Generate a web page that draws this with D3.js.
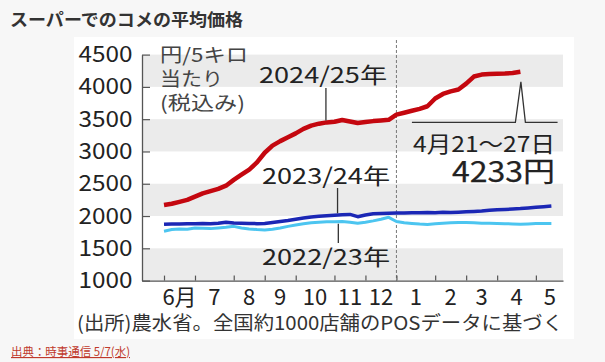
<!DOCTYPE html>
<html>
<head>
<meta charset="utf-8">
<script src="https://cdn.jsdelivr.net/npm/d3@7"></script>
<style>
    body { margin: 0; background: #f7f7f7; }
    text { font-family: "Noto Sans CJK JP", "Noto Sans", sans-serif; }
</style>
</head>
<body>
<svg id="chart" width="605" height="362"></svg>
<script>
'use strict'

// Weekly average price, yen per 5kg (week 0 = first week of June).
const red2425 = [2170, 2190, 2220, 2250, 2300, 2350, 2385, 2420, 2470, 2560,
    2640, 2720, 2830, 2980, 3090, 3160, 3220, 3280, 3350, 3400,
    3430, 3450, 3460, 3488, 3465, 3440, 3455, 3470, 3480, 3490,
    3570, 3600, 3630, 3660, 3700, 3820, 3890, 3930, 3960, 4050,
    4160, 4190, 4200, 4205, 4208, 4214, 4233];
const blue2324 = [1872, 1878, 1875, 1882, 1882, 1885, 1880, 1888, 1905, 1892,
    1888, 1885, 1882, 1885, 1900, 1915, 1930, 1950, 1968, 1985,
    1995, 2005, 2012, 2020, 2025, 1990, 2015, 2035, 2040, 2042,
    2045, 2048, 2050, 2052, 2055, 2052, 2058, 2055, 2060, 2065,
    2072, 2078, 2088, 2096, 2102, 2108, 2115, 2125, 2135, 2145, 2155];
const cyan2223 = [1765, 1790, 1800, 1795, 1815, 1810, 1805, 1815, 1825, 1840,
    1815, 1800, 1790, 1785, 1795, 1815, 1840, 1860, 1880, 1895,
    1905, 1912, 1910, 1915, 1905, 1888, 1905, 1925, 1950, 1980,
    1915, 1895, 1885, 1875, 1870, 1880, 1890, 1895, 1900, 1898,
    1895, 1890, 1888, 1885, 1880, 1878, 1872, 1878, 1885, 1885, 1885];

// Month start weeks and labels.
const monthStarts = [0, 4, 9, 13, 17, 22, 26, 30, 35, 39, 43, 48];
const monthLabels = ['6月', '7', '8', '9', '10', '11', '12', '1', '2', '3', '4', '5'];
const yTicks = [1000, 1500, 2000, 2500, 3000, 3500, 4000, 4500];
const bands = [[4000, 4500], [3000, 3500], [2000, 2500], [1000, 1500]];

let svg = d3.select('#chart');

// Title.
svg.append('text')
    .attr('x', 10).attr('y', 26)
    .attr('font-size', 17.5).attr('font-weight', 'bold')
    .attr('fill', '#333')
    .attr('textLength', 233).attr('lengthAdjust', 'spacingAndGlyphs')
    .text('スーパーでのコメの平均価格');

// White panel.
svg.append('rect')
    .attr('x', 74).attr('y', 37).attr('width', 500).attr('height', 302)
    .attr('fill', '#fff');

// Scales.
let x = d3.scaleLinear().domain([-2.84, 51.5]).range([142, 563]);
let y = d3.scaleLinear().domain([1000, 4500]).range([280.6, 54.6]);

// Gray bands.
svg.append('g')
    .selectAll('rect')
    .data(bands)
    .join('rect')
        .attr('x', x(-2.84) + 1)
        .attr('y', d => y(d[1]))
        .attr('width', x(51.5) - x(-2.84) - 1)
        .attr('height', d => y(d[0]) - y(d[1]))
        .attr('fill', '#ebebeb');

// Dashed year separator.
svg.append('line')
    .attr('x1', x(30)).attr('x2', x(30))
    .attr('y1', 40).attr('y2', y(1000))
    .attr('stroke', '#777').attr('stroke-width', 1)
    .attr('stroke-dasharray', '3,2');

// Axes.
svg.append('g')
    .attr('transform', `translate(${x(-2.84)},0)`)
    .call(d3.axisLeft(y).tickValues(yTicks).tickFormat(d3.format('d'))
        .tickSize(-8).tickSizeOuter(0).tickPadding(9.5))
    .call(g => g.select('.domain').attr('stroke', '#555').attr('stroke-width', 1.3))
    .call(g => g.selectAll('.tick line').attr('stroke', '#555').attr('stroke-width', 1.2))
    .call(g => g.selectAll('text')
        .attr('font-size', 22).attr('fill', '#222')
        .attr('textLength', 54).attr('lengthAdjust', 'spacingAndGlyphs'));

svg.append('g')
    .attr('transform', `translate(0,${y(1000)})`)
    .call(d3.axisBottom(x).tickValues(monthStarts).tickSize(-5).tickSizeOuter(0).tickFormat(''))
    .call(g => g.select('.domain').attr('stroke', '#555').attr('stroke-width', 1.3))
    .call(g => g.selectAll('.tick line').attr('stroke', '#555').attr('stroke-width', 1.2));

// Month labels, centred in each month.
let monthEnds = monthStarts.slice(1).concat([51.6]);
svg.append('g')
    .selectAll('text')
    .data(monthLabels)
    .join('text')
        .attr('x', (d, i) => x((monthStarts[i] + monthEnds[i]) / 2))
        .attr('y', 305)
        .attr('text-anchor', 'middle')
        .attr('font-size', 22)
        .attr('fill', '#222')
        .text(d => d);

// Lines.
let line = d3.line()
    .x((d, i) => x(i))
    .y(d => y(d));

let series = [
    {values: cyan2223, color: '#4cc5f0', width: 3},
    {values: blue2324, color: '#1b27b5', width: 3.5},
    {values: red2425, color: '#c4070f', width: 4.5},
];

svg.append('g')
    .selectAll('path')
    .data(series)
    .join('path')
        .attr('d', d => line(d.values))
        .attr('fill', 'none')
        .attr('stroke', d => d.color)
        .attr('stroke-width', d => d.width)
        .attr('stroke-linejoin', 'round')
        .attr('stroke-linecap', 'butt');

// Unit note.
let unit = [['円/5キロ', 62, 88], ['当たり', 85.5, 63], ['(税込み)', 109.5, 85]];
svg.append('g')
    .selectAll('text')
    .data(unit)
    .join('text')
        .attr('x', 160)
        .attr('y', d => d[1])
        .attr('font-size', 19)
        .attr('fill', '#444')
        .attr('textLength', d => d[2])
        .attr('lengthAdjust', 'spacingAndGlyphs')
        .text(d => d[0]);

// Series labels with leader lines.
let ink = '#222';
let labels = [
    {text: '2024/25年', x: 259, y: 82.5},
    {text: '2023/24年', x: 262, y: 184},
    {text: '2022/23年', x: 262, y: 265},
];
svg.append('g')
    .selectAll('text')
    .data(labels)
    .join('text')
        .attr('x', d => d.x)
        .attr('y', d => d.y)
        .attr('font-size', 22)
        .attr('fill', ink)
        .attr('textLength', 128)
        .attr('lengthAdjust', 'spacingAndGlyphs')
        .text(d => d.text);

let leaders = [
    [x(20.9), 88, y(red2425[21]) - 2],
    [x(22.4), 188, y(blue2324[22]) - 2],
    [x(22.5), y(cyan2223[22]) + 2, 243],
];
svg.append('g')
    .selectAll('line')
    .data(leaders)
    .join('line')
        .attr('x1', d => d[0]).attr('x2', d => d[0])
        .attr('y1', d => d[1]).attr('y2', d => d[2])
        .attr('stroke', '#333').attr('stroke-width', 1.3);

// Latest value callout.
let last = red2425.length - 1;
let baseY = y(3450);
svg.append('path')
    .attr('d', d3.line()([
        [x(32), baseY], [x(last) - 5, baseY],
        [x(last) + 0.5, y(red2425[last]) + 10],
        [x(last) + 5, baseY], [x(50.8), baseY]
    ]))
    .attr('fill', 'none')
    .attr('stroke', '#333')
    .attr('stroke-width', 1.3)
    .attr('stroke-linejoin', 'miter');

svg.append('text')
    .attr('x', 413).attr('y', 152)
    .attr('font-size', 22).attr('fill', ink)
    .attr('textLength', 142).attr('lengthAdjust', 'spacingAndGlyphs')
    .text('4月21～27日');

svg.append('text')
    .attr('x', 452).attr('y', 181.5)
    .attr('font-size', 28).attr('fill', ink)
    .attr('stroke', ink).attr('stroke-width', 0.25)
    .attr('textLength', 103).attr('lengthAdjust', 'spacingAndGlyphs')
    .text('4233円');

// Source caption.
svg.append('text')
    .attr('x', 77).attr('y', 330)
    .attr('font-size', 19).attr('fill', '#333')
    .attr('textLength', 486).attr('lengthAdjust', 'spacingAndGlyphs')
    .text('(出所)農水省。全国約1000店舗のPOSデータに基づく');

// Footer credit.
svg.append('text')
    .attr('x', 11).attr('y', 356)
    .attr('font-size', 11.5).attr('fill', '#c0392b')
    .attr('text-decoration', 'underline')
    .attr('textLength', 119).attr('lengthAdjust', 'spacingAndGlyphs')
    .text('出典：時事通信 5/7(水)');
</script>
</body>
</html>
